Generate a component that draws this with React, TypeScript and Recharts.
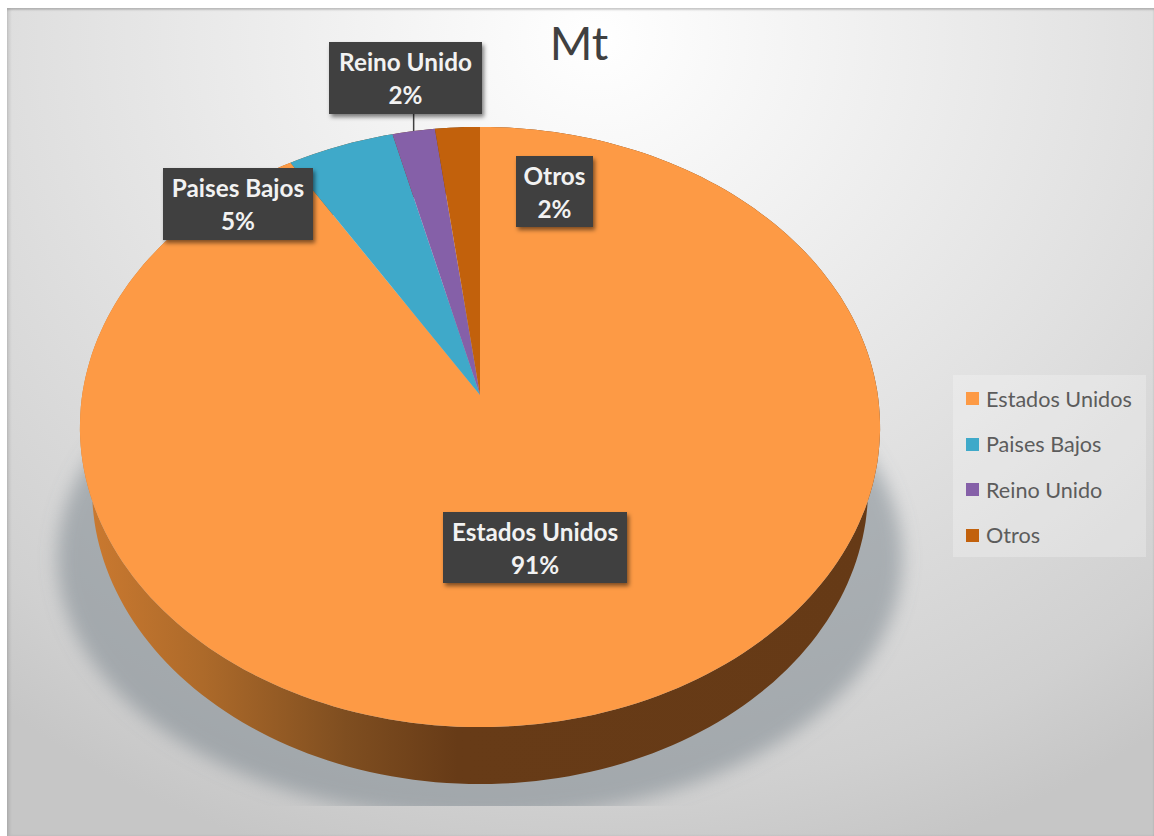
import React from 'react';
import { PieChart, Pie, Cell, Legend } from 'recharts';

const categories = ['Estados Unidos', 'Paises Bajos', 'Reino Unido', 'Otros'];
const shares = [91.3, 4.8, 1.9, 2.0];
const colors = ['#fd9a45', '#3fa9c9', '#8560a8', '#c2610c'];

const pieData = categories.map((name, i) => ({ name, value: shares[i] }));

const FONT = 'Lato, "Open Sans", sans-serif';
const PERSPECTIVE = 0.1067;

// the 3d look: the same wedge angles pushed through a small perspective
const TOP_FACE = { x: 1.326, y: 0.989, dy: 0 };
const LOWER_RIM = { x: 1.286, y: 0.974, dy: 62 };
const SHADOW = { x: 1.4, y: 0.86, dy: 135 };

const project = (p: any, deg: number, k: { x: number; y: number; dy: number }) => {
    const a = (deg * Math.PI) / 180;
    const w = 1 + PERSPECTIVE * Math.sin(a);
    return [p.cx + (k.x * p.outerRadius * Math.cos(a)) / w, p.cy + k.dy - (k.y * p.outerRadius * Math.sin(a)) / w];
};

const arcPoints = (p: any, k: { x: number; y: number; dy: number }) => {
    const steps = Math.ceil(Math.abs(p.endAngle - p.startAngle) / 1.5) + 1;
    const pts = [];
    for (let i = 0; i <= steps; i++) {
        pts.push(project(p, p.startAngle + ((p.endAngle - p.startAngle) * i) / steps, k));
    }
    return pts;
};

const toPath = (pts: number[][]) => 'M' + pts.map(q => q[0].toFixed(1) + ' ' + q[1].toFixed(1)).join('L') + 'Z';

const FaceShape = (props: any) => {
    const center = [props.cx, props.cy];
    return <path d={toPath([center, ...arcPoints(props, TOP_FACE)])} fill={props.fill} />;
};

const WallShape = (props: any) => {
    const upper = arcPoints(props, TOP_FACE);
    const lower = arcPoints(props, LOWER_RIM).reverse();
    return <path d={toPath([...upper, ...lower])} fill="url(#wallFill)" />;
};

const ShadowShape = (props: any) => {
    const center = [props.cx, props.cy + SHADOW.dy];
    return (
        <g clipPath="url(#shadowClip)">
            <path d={toPath([center, ...arcPoints(props, SHADOW)])} fill="#76828a" fillOpacity={0.5} filter="url(#shadowBlur)" />
        </g>
    );
};

// label boxes were dragged by hand in the original
const labelBoxes = [
    { x: 436, y: 504, w: 184, h: 71 },
    { x: 156, y: 160, w: 150, h: 72 },
    { x: 322, y: 34, w: 153, h: 72 },
    { x: 509, y: 148, w: 77, h: 71 },
];

const renderLabel = (props: any) => {
    const box = labelBoxes[props.index];
    const mid = box.x + box.w / 2;
    const rim = project({ cx: props.cx, cy: props.cy, outerRadius: props.outerRadius }, props.midAngle, TOP_FACE);
    return (
        <g>
            {props.index === 2 && <line x1={rim[0]} y1={box.y + box.h} x2={rim[0]} y2={rim[1]} stroke="#404040" strokeWidth={1.5} />}
            <rect x={box.x} y={box.y} width={box.w} height={box.h} fill="#404040" filter="url(#labelShadow)" />
            <text x={mid} y={box.y + 29} textAnchor="middle" fontFamily={FONT} fontWeight={700} fontSize={24.3} fill="#f2f2f2">
                {props.name}
            </text>
            <text x={mid} y={box.y + 62} textAnchor="middle" fontFamily={FONT} fontWeight={700} fontSize={24.3} fill="#f2f2f2">
                {Math.round(props.percent * 100)}%
            </text>
        </g>
    );
};

const renderLegend = () => (
    <div style={{ width: 193, height: 182, background: 'rgba(255,255,255,0.25)', paddingTop: 1, boxSizing: 'border-box' }}>
        {categories.map((name, i) => (
            <div key={name} style={{ height: 45.5, display: 'flex', alignItems: 'center', paddingLeft: 13, fontFamily: FONT, fontSize: 21.6, color: '#5c5c5c' }}>
                <span style={{ width: 13, height: 13, background: colors[i], marginRight: 7 }} />
                {name}
            </div>
        ))}
    </div>
);

export default function App() {
    return (
        <div
            style={{
                position: 'absolute',
                left: 7,
                top: 8,
                width: 1147,
                height: 828,
                background: 'radial-gradient(ellipse 950px 860px at 590px 30px, #ffffff 0%, #f2f2f2 25%, #e2e2e2 55%, #d0d0d0 88%, #c6c6c6 100%)',
                boxShadow: 'inset 0 2px 2px rgba(0,0,0,0.18), inset 3px 0 3px rgba(0,0,0,0.08)',
            }}
        >
            <PieChart width={1147} height={828} margin={{ top: 0, right: 0, bottom: 0, left: 0 }}>
                <defs>
                    <linearGradient id="wallFill" gradientUnits="userSpaceOnUse" x1="75" y1="0" x2="873" y2="0">
                        <stop offset="0%" stopColor="#cc7a30" />
                        <stop offset="15%" stopColor="#ad6a2a" />
                        <stop offset="33%" stopColor="#7f4e20" />
                        <stop offset="47%" stopColor="#673b17" />
                        <stop offset="100%" stopColor="#663a16" />
                    </linearGradient>
                    <filter id="shadowBlur" x="-20%" y="-20%" width="140%" height="140%">
                        <feGaussianBlur stdDeviation="9" />
                    </filter>
                    <filter id="labelShadow" x="-10%" y="-10%" width="125%" height="130%">
                        <feDropShadow dx="2" dy="3" stdDeviation="2" floodColor="#000000" floodOpacity="0.5" />
                    </filter>
                    <clipPath id="shadowClip">
                        <rect x="0" y="0" width="1147" height="798" />
                    </clipPath>
                </defs>
                <text x={572} y={52} textAnchor="middle" fontFamily={FONT} fontSize={46} fill="#404040">
                    Mt
                </text>
                <Pie
                    data={pieData}
                    dataKey="value"
                    cx={473}
                    cy={387}
                    outerRadius={300}
                    startAngle={90}
                    endAngle={-270}
                    stroke="none"
                    legendType="none"
                    shape={ShadowShape}
                    isAnimationActive={false}
                />
                <Pie
                    data={pieData}
                    dataKey="value"
                    cx={473}
                    cy={387}
                    outerRadius={300}
                    startAngle={90}
                    endAngle={-270}
                    stroke="none"
                    legendType="none"
                    shape={WallShape}
                    isAnimationActive={false}
                />
                <Pie
                    data={pieData}
                    dataKey="value"
                    cx={473}
                    cy={387}
                    outerRadius={300}
                    startAngle={90}
                    endAngle={-270}
                    stroke="none"
                    shape={FaceShape}
                    label={renderLabel}
                    labelLine={false}
                    isAnimationActive={false}
                >
                    {pieData.map((d, i) => (
                        <Cell key={d.name} fill={colors[i]} />
                    ))}
                </Pie>
                <Legend
                    layout="vertical"
                    content={renderLegend}
                    wrapperStyle={{ position: 'absolute', left: 946, top: 367, width: 193, bottom: 'auto', right: 'auto' }}
                />
            </PieChart>
        </div>
    );
}
